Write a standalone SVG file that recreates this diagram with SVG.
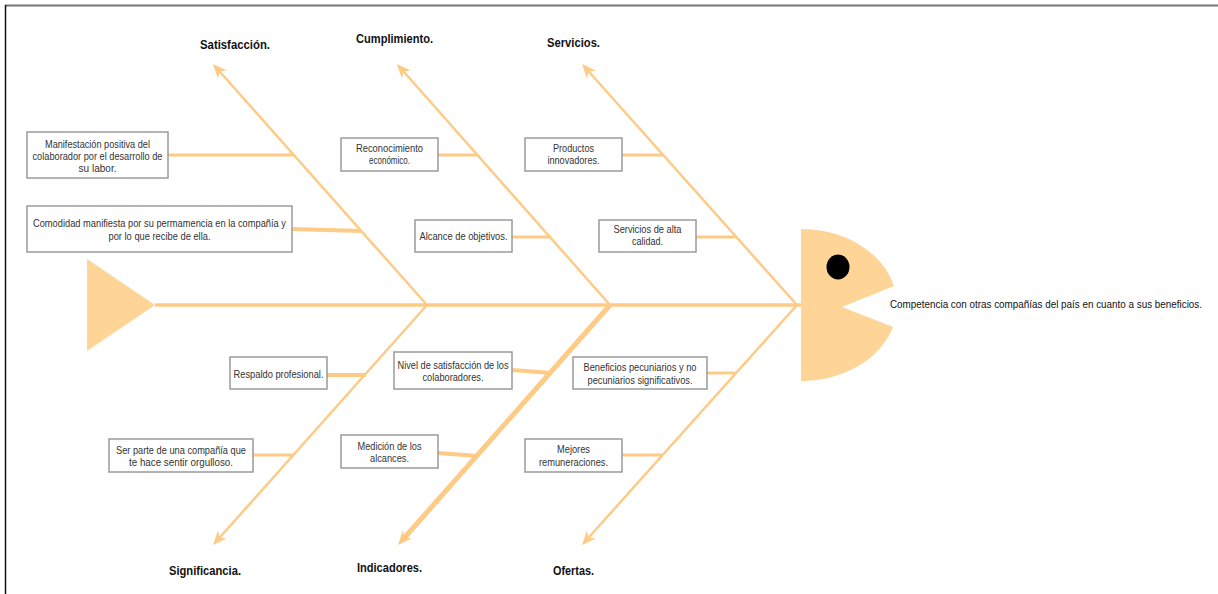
<svg xmlns="http://www.w3.org/2000/svg" width="1218" height="594" viewBox="0 0 1218 594">
  <defs>
    <style>
      .bone { stroke: #FDCB86; stroke-width: 2.5; fill: none; stroke-linecap: butt; }
      .spine { stroke: #FDCB86; stroke-width: 3.5; fill: none; }
      .link { stroke: #FDCB86; stroke-width: 3; fill: none; }
      .body { fill: #FED596; }
      .box rect { fill: #ffffff; stroke: #9a9a9a; stroke-width: 1.5; }
      .box text { font-family: "Liberation Sans", Arial, sans-serif; font-size: 11px; fill: #333333; text-anchor: middle; }
      .cat { font-family: "Liberation Sans", Arial, sans-serif; font-size: 13px; font-weight: bold; fill: #111111; text-anchor: middle; }
      .effect { font-family: "Liberation Sans", Arial, sans-serif; font-size: 10px; fill: #111111; }
    </style>
    <marker id="arrow" markerUnits="userSpaceOnUse" markerWidth="15" markerHeight="14" viewBox="0 -7 15 14" refX="4" refY="0" orient="auto">
      <path d="M0,-6 L14,0 L0,6 L4,0 z" fill="#FDCB86"/>
    </marker>
  </defs>

  <rect x="0" y="0" width="1218" height="594" fill="#ffffff"/>
  <!-- frame -->
  <line x1="5" y1="5.5" x2="1218" y2="5.5" stroke="#777777" stroke-width="2"/>
  <line x1="5.5" y1="5" x2="5.5" y2="594" stroke="#111111" stroke-width="1.5"/>

  <!-- fish body -->
  <g id="tail">
    <polygon class="body" points="87,259 155,305 87,351"/>
  </g>
  <g id="head">
    <path class="body" d="M801,229 A96,76 0 0 1 894,286 L842,307 L893,327 A96,76 0 0 1 801,381 Z"/>
    <ellipse cx="838" cy="267" rx="11.5" ry="12.5" fill="#000000"/>
  </g>

  <!-- bones and connectors -->
  <g id="connectors">
    <line class="spine" x1="155" y1="305" x2="801" y2="305"/>
    <line class="bone" x1="427" y1="305" x2="219.6" y2="71.5" marker-end="url(#arrow)"/>
    <line class="bone" x1="610" y1="305" x2="403.6" y2="71.5" marker-end="url(#arrow)"/>
    <line class="bone" x1="797" y1="305" x2="588.7" y2="71.5" marker-end="url(#arrow)"/>
    <line class="bone" x1="427" y1="305" x2="219.7" y2="537.5" marker-end="url(#arrow)"/>
    <line class="bone" x1="610" y1="305" x2="404.6" y2="537.5" marker-end="url(#arrow)" style="stroke-width:5"/>
    <line class="bone" x1="797" y1="305" x2="588.7" y2="537.5" marker-end="url(#arrow)"/>

    <line class="link" x1="168" y1="155" x2="294" y2="155"/>
    <line class="link" x1="292" y1="229" x2="361" y2="231" style="stroke-width:4"/>
    <line class="link" x1="438" y1="155" x2="478" y2="155"/>
    <line class="link" x1="512" y1="237" x2="551" y2="237"/>
    <line class="link" x1="622" y1="155" x2="663" y2="155"/>
    <line class="link" x1="696" y1="237" x2="735" y2="237"/>

    <line class="link" x1="327" y1="375" x2="366" y2="375" style="stroke-width:4"/>
    <line class="link" x1="253" y1="455" x2="294" y2="455"/>
    <line class="link" x1="512" y1="370" x2="552" y2="373" style="stroke-width:4"/>
    <line class="link" x1="438" y1="453" x2="478" y2="456" style="stroke-width:4"/>
    <line class="link" x1="707" y1="373" x2="736" y2="373"/>
    <line class="link" x1="622" y1="455" x2="663" y2="455"/>
  </g>

  <!-- category labels -->
  <g id="cat-satisfaccion"><text class="cat" x="235" y="49" textLength="70" lengthAdjust="spacingAndGlyphs">Satisfacción.</text></g>
  <g id="cat-cumplimiento"><text class="cat" x="394.5" y="43" textLength="77" lengthAdjust="spacingAndGlyphs">Cumplimiento.</text></g>
  <g id="cat-servicios"><text class="cat" x="573.5" y="47" textLength="53" lengthAdjust="spacingAndGlyphs">Servicios.</text></g>
  <g id="cat-significancia"><text class="cat" x="205" y="575" textLength="72" lengthAdjust="spacingAndGlyphs">Significancia.</text></g>
  <g id="cat-indicadores"><text class="cat" x="389.5" y="572" textLength="65" lengthAdjust="spacingAndGlyphs">Indicadores.</text></g>
  <g id="cat-ofertas"><text class="cat" x="573.5" y="575" textLength="41" lengthAdjust="spacingAndGlyphs">Ofertas.</text></g>

  <!-- effect -->
  <g id="effect">
    <text class="effect" x="890" y="308" textLength="312" lengthAdjust="spacingAndGlyphs">Competencia con otras compañías del país en cuanto a sus beneficios.</text>
  </g>

  <!-- cause boxes -->
  <g id="cause-manifestacion" class="box">
    <rect x="27" y="132" width="141" height="46"/>
    <text x="97.5" y="148" textLength="105" lengthAdjust="spacingAndGlyphs">Manifestación positiva del</text>
    <text x="97.5" y="160" textLength="130" lengthAdjust="spacingAndGlyphs">colaborador por el desarrollo de</text>
    <text x="97.5" y="172" textLength="38" lengthAdjust="spacingAndGlyphs">su labor.</text>
  </g>
  <g id="cause-comodidad" class="box">
    <rect x="27" y="206" width="265" height="46"/>
    <text x="159.5" y="227" textLength="253" lengthAdjust="spacingAndGlyphs">Comodidad manifiesta por su permamencia en la compañía y</text>
    <text x="159.5" y="240" textLength="102" lengthAdjust="spacingAndGlyphs">por lo que recibe de ella.</text>
  </g>
  <g id="cause-reconocimiento" class="box">
    <rect x="341" y="138" width="97" height="33"/>
    <text x="389.5" y="152" textLength="67" lengthAdjust="spacingAndGlyphs">Reconocimiento</text>
    <text x="389.5" y="164" textLength="41" lengthAdjust="spacingAndGlyphs">económico.</text>
  </g>
  <g id="cause-alcance" class="box">
    <rect x="415" y="220" width="97" height="32"/>
    <text x="463.5" y="240" textLength="88" lengthAdjust="spacingAndGlyphs">Alcance de objetivos.</text>
  </g>
  <g id="cause-productos" class="box">
    <rect x="525" y="138" width="97" height="33"/>
    <text x="573.5" y="152" textLength="41" lengthAdjust="spacingAndGlyphs">Productos</text>
    <text x="573.5" y="164" textLength="52" lengthAdjust="spacingAndGlyphs">innovadores.</text>
  </g>
  <g id="cause-servicios-calidad" class="box">
    <rect x="599" y="220" width="97" height="32"/>
    <text x="647.5" y="233" textLength="68" lengthAdjust="spacingAndGlyphs">Servicios de alta</text>
    <text x="647.5" y="245" textLength="31" lengthAdjust="spacingAndGlyphs">calidad.</text>
  </g>

  <g id="cause-respaldo" class="box">
    <rect x="230" y="357" width="97" height="32"/>
    <text x="278.5" y="378" textLength="90" lengthAdjust="spacingAndGlyphs">Respaldo profesional.</text>
  </g>
  <g id="cause-orgullo" class="box">
    <rect x="109" y="439" width="144" height="33"/>
    <text x="181" y="454" textLength="130" lengthAdjust="spacingAndGlyphs">Ser parte de una compañía que</text>
    <text x="181" y="466" textLength="104" lengthAdjust="spacingAndGlyphs">te hace sentir orgulloso.</text>
  </g>
  <g id="cause-nivel" class="box">
    <rect x="394" y="352" width="118" height="37"/>
    <text x="453" y="369" textLength="111" lengthAdjust="spacingAndGlyphs">Nivel de satisfacción de los</text>
    <text x="453" y="381" textLength="61" lengthAdjust="spacingAndGlyphs">colaboradores.</text>
  </g>
  <g id="cause-medicion" class="box">
    <rect x="341" y="435" width="97" height="33"/>
    <text x="389.5" y="450" textLength="64" lengthAdjust="spacingAndGlyphs">Medición de los</text>
    <text x="389.5" y="462" textLength="39" lengthAdjust="spacingAndGlyphs">alcances.</text>
  </g>
  <g id="cause-beneficios" class="box">
    <rect x="573" y="357" width="134" height="32"/>
    <text x="640" y="371" textLength="113" lengthAdjust="spacingAndGlyphs">Beneficios pecuniarios y no</text>
    <text x="640" y="384" textLength="105" lengthAdjust="spacingAndGlyphs">pecuniarios significativos.</text>
  </g>
  <g id="cause-remuneraciones" class="box">
    <rect x="525" y="439" width="97" height="33"/>
    <text x="573.5" y="453" textLength="33" lengthAdjust="spacingAndGlyphs">Mejores</text>
    <text x="573.5" y="466" textLength="69" lengthAdjust="spacingAndGlyphs">remuneraciones.</text>
  </g>
</svg>
